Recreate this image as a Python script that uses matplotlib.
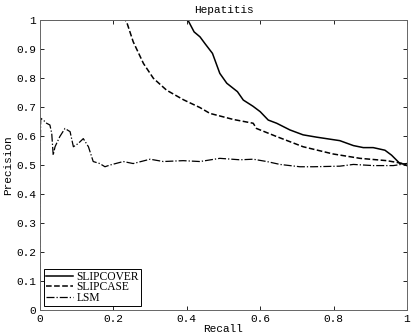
import numpy as np
import matplotlib.pyplot as plt

# precision-recall curves
cover_recall = [0.0, 0.40, 0.405, 0.42, 0.436, 0.45, 0.47, 0.49, 0.509, 0.538, 0.554,
                0.58, 0.60, 0.622, 0.645, 0.681, 0.717, 0.754, 0.817, 0.854, 0.881,
                0.908, 0.94, 0.958, 0.981, 0.995, 1.0]
cover_prec = [1.0, 1.0, 0.995, 0.959, 0.942, 0.918, 0.885, 0.816, 0.782, 0.753, 0.724,
              0.703, 0.684, 0.655, 0.644, 0.621, 0.604, 0.596, 0.584, 0.567, 0.560,
              0.560, 0.551, 0.534, 0.505, 0.503, 0.505]

case_recall = [0.0, 0.232, 0.236, 0.254, 0.282, 0.309, 0.345, 0.391, 0.436, 0.463,
               0.527, 0.581, 0.59, 0.645, 0.717, 0.799, 0.872, 0.945, 0.99, 1.0]
case_prec = [1.0, 1.0, 0.994, 0.925, 0.850, 0.799, 0.758, 0.725, 0.698, 0.678,
             0.657, 0.644, 0.626, 0.598, 0.563, 0.538, 0.523, 0.515, 0.505, 0.497]

lsm_recall = [0.0, 0.0, 0.002, 0.009, 0.018, 0.027, 0.032, 0.036, 0.041, 0.054, 0.068,
              0.082, 0.091, 0.104, 0.118, 0.132, 0.145, 0.163, 0.177, 0.191, 0.227,
              0.254, 0.3, 0.336, 0.39, 0.436, 0.49, 0.545, 0.581, 0.618, 0.654,
              0.708, 0.745, 0.817, 0.854, 0.908, 0.963, 1.0]
lsm_prec = [0.0, 0.488, 0.661, 0.655, 0.644, 0.638, 0.609, 0.534, 0.563, 0.598, 0.626,
            0.615, 0.563, 0.574, 0.591, 0.563, 0.512, 0.505, 0.494, 0.500, 0.512,
            0.505, 0.520, 0.512, 0.515, 0.512, 0.523, 0.518, 0.520, 0.512, 0.502,
            0.494, 0.494, 0.496, 0.502, 0.498, 0.498, 0.505]

mono = 'Liberation Mono'

fig = plt.figure(figsize=(4.14, 3.36), dpi=100)
ax = fig.add_axes([0.0966, 0.0774, 0.8864, 0.863])

ax.plot(cover_recall, cover_prec, 'k-', lw=1.1, label='SLIPCOVER')
ax.plot(case_recall, case_prec, 'k--', lw=1.1, label='SLIPCASE')
ax.plot(lsm_recall, lsm_prec, 'k-.', lw=0.9, label='LSM')

ax.set_xlim(0, 1)
ax.set_ylim(0, 1)
ax.set_xticks(np.arange(0, 1.01, 0.2))
ax.set_xticklabels(['0', '0.2', '0.4', '0.6', '0.8', '1'])
ax.set_yticks(np.arange(0, 1.01, 0.1))
ax.set_yticklabels(['0', '0.1', '0.2', '0.3', '0.4', '0.5', '0.6', '0.7', '0.8', '0.9', '1'])
ax.tick_params(direction='in', top=True, right=True, length=3, width=0.6,
               labelsize=8, pad=3)
for lab in ax.get_xticklabels() + ax.get_yticklabels():
    lab.set_family(mono)
for s in ax.spines.values():
    s.set_linewidth(0.7)
    s.set_color('#666666')

ax.set_xlabel('Recall', family=mono, fontsize=8, labelpad=0)
ax.set_ylabel('Precision', family=mono, fontsize=8, labelpad=2)
ax.set_title('Hepatitis', family=mono, fontsize=8, pad=5)

leg = ax.legend(loc='lower left', prop={'family': 'Liberation Serif', 'size': 8.3},
                fancybox=False, edgecolor='k', framealpha=1, borderpad=0.15,
                labelspacing=-0.1, handlelength=2.4, handletextpad=0.25,
                borderaxespad=0.35)
leg.get_frame().set_linewidth(0.7)

plt.savefig('out.png', dpi=100)
